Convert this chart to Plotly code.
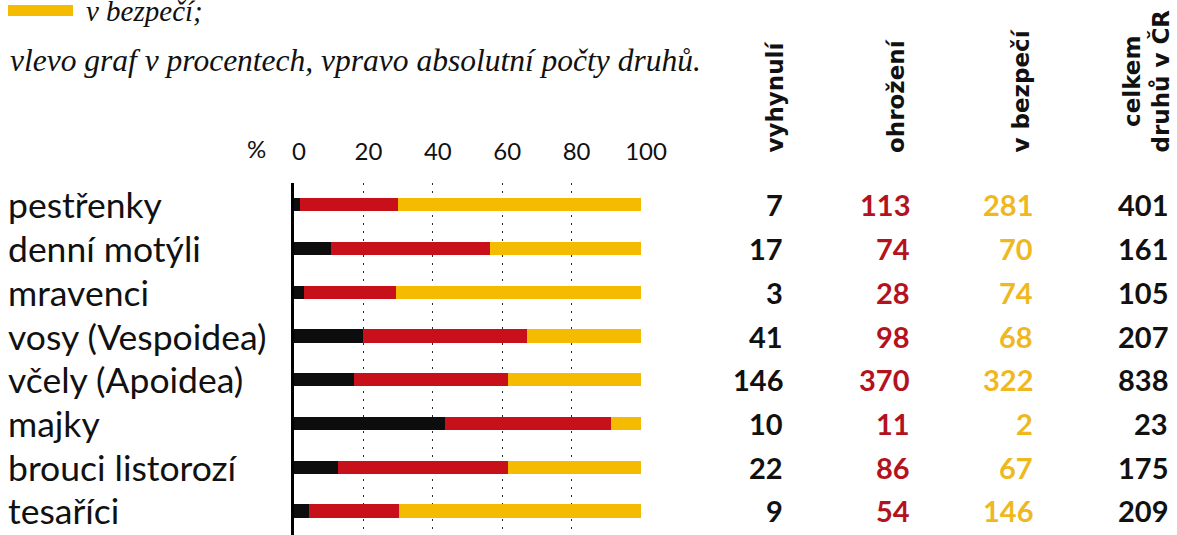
import plotly.graph_objects as go

categories = ["pestřenky", "denní motýli", "mravenci", "vosy (Vespoidea)",
              "včely (Apoidea)", "majky", "brouci listorozí", "tesaříci"]
extinct = [7, 17, 3, 41, 146, 10, 22, 9]
threatened = [113, 74, 28, 98, 370, 11, 86, 54]
safe = [281, 70, 74, 68, 322, 2, 67, 146]
total = [401, 161, 105, 207, 838, 23, 175, 209]

x_ticks = [0, 20, 40, 60, 80, 100]
headers = ["vyhynulí", "ohrožení", "v bezpečí", "celkem<br>druhů v ČR"]

BLACK = "#0d0d0d"
RED = "#c8101a"
YELLOW = "#f5bb00"
RED_TXT = "#b3131c"
YEL_TXT = "#efb81e"

W, H = 1177, 535
SANS = "Lato, 'Noto Sans', sans-serif"
HEAD = "'DejaVu Sans', sans-serif"
SERIF = "'Liberation Serif', 'DejaVu Serif', serif"

def px(x):
    return x / W

def py(y):
    return 1 - y / H

pct = lambda vals: [v / t * 100 for v, t in zip(vals, total)]

fig = go.Figure()
for vals, col, name in [(extinct, BLACK, "vyhynulí"), (threatened, RED, "ohrožení"), (safe, YELLOW, "v bezpečí")]:
    fig.add_trace(go.Bar(y=categories, x=pct(vals), orientation="h", marker=dict(color=col, line=dict(width=0)),
                         width=0.3, name=name, showlegend=False, hoverinfo="skip"))

fig.update_layout(
    width=W, height=H, autosize=False, barmode="stack",
    margin=dict(l=0, r=0, t=0, b=0, autoexpand=False),
    paper_bgcolor="white", plot_bgcolor="white",
    xaxis=dict(domain=[px(294), px(641)], range=[0, 100], side="top", tickvals=x_ticks,
               showgrid=True, gridcolor="#2a2a2a", gridwidth=1, griddash="2px,6px",
               zeroline=False, showline=False, ticks="", automargin=False,
               tickfont=dict(family=SANS, size=24, color="#111"),
               ticklabelstandoff=17, ticklabelshift=5, fixedrange=True),
    yaxis=dict(domain=[0, py(183)], range=[7.55, -0.5], showticklabels=False, showgrid=False,
               zeroline=False, showline=True, linecolor="black", linewidth=3, ticks="",
               automargin=False, fixedrange=True),
)

ann = []
for c in categories:
    ann.append(dict(x=px(6), xref="paper", y=c, yref="y", text=c, showarrow=False, xanchor="left",
                    yanchor="middle", font=dict(family=SANS, size=35.5, color="#111")))
ann.append(dict(x=px(268), xref="paper", y=py(148), yref="paper", text="%", showarrow=False,
                xanchor="right", yanchor="middle", font=dict(family=SANS, size=24, color="#111")))
cols = [(extinct, 785, "#111"), (threatened, 912, RED_TXT), (safe, 1035, YEL_TXT), (total, 1170, "#111")]
for vals, xr, col in cols:
    for c, v in zip(categories, vals):
        ann.append(dict(x=px(xr), xref="paper", y=c, yref="y", text=f"<b>{v}</b>", showarrow=False,
                        xanchor="right", yanchor="middle", font=dict(family=SANS, size=29, color=col)))
for h, xc in zip(headers, [775, 896, 1021, 1147]):
    ann.append(dict(x=px(xc), xref="paper", y=py(155), yref="paper", text=f"<b>{h}</b>", showarrow=False,
                    textangle=-90, xanchor="center", yanchor="bottom",
                    font=dict(family=HEAD, size=23, color="#111")))
ann.append(dict(x=px(84), xref="paper", y=py(11), yref="paper", text="<i>v bezpečí;</i>", showarrow=False,
                xanchor="left", yanchor="middle", font=dict(family=SERIF, size=29, color="#111")))
ann.append(dict(x=px(8), xref="paper", y=py(60), yref="paper",
                text="<i>vlevo graf v procentech, vpravo absolutní počty druhů.</i>", showarrow=False,
                xanchor="left", yanchor="middle", font=dict(family=SERIF, size=31.5, color="#111")))
fig.update_layout(annotations=ann)

fig.add_shape(type="rect", xref="paper", yref="paper", x0=px(8), x1=px(73), y0=py(5), y1=py(16),
              fillcolor=YELLOW, line=dict(width=0))

fig.write_html("out.html", config={"displayModeBar": False, "responsive": False},
               post_script="document.body.style.margin='0';document.body.style.overflow='hidden';")
